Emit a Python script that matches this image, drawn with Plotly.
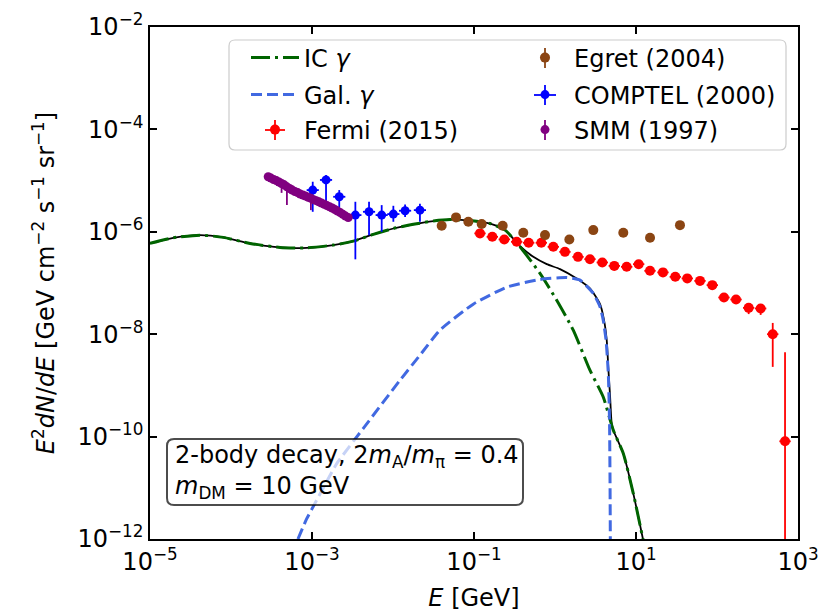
import plotly.graph_objects as go

# ---------------- data ----------------
# Model curves (E [GeV], E^2 dN/dE)
ic_E = [1.00e-5, 1.94e-5, 4.14e-5, 8.04e-5, 1.72e-4, 4.03e-4, 8.59e-4, 1.83e-3, 3.24e-3,
        5.71e-3, 1.01e-2, 1.78e-2, 3.15e-2, 5.06e-2, 8.93e-2, 0.158, 0.242, 0.370, 0.653,
        1.05, 1.68, 2.70, 3.94, 5.25, 6.97, 9.27, 12.3]
ic_y = [5.93e-7, 7.64e-7, 8.61e-7, 7.78e-7, 5.93e-7, 4.95e-7, 4.86e-7, 5.50e-7, 6.58e-7,
        8.89e-7, 1.16e-6, 1.40e-6, 1.62e-6, 1.73e-6, 1.66e-6, 1.45e-6, 1.08e-6, 5.09e-7, 1.54e-7,
        4.62e-8, 1.20e-8, 1.98e-9, 5.94e-10, 1.33e-10, 4.66e-11, 7.69e-12, 9.3e-13]

gal_E = [6.71e-4, 8.61e-4, 1.14e-3, 2.02e-3, 4.30e-3, 1.22e-2, 2.15e-2, 3.80e-2, 9.79e-2,
         0.254, 0.653, 1.39, 2.04, 2.97, 3.60, 3.94, 4.27, 4.55, 4.71, 4.78, 4.82]
gal_y = [1.0e-12, 2.49e-12, 5.69e-12, 2.96e-11, 1.45e-10, 1.26e-9, 3.88e-9, 1.20e-8, 3.86e-8,
         8.30e-8, 1.17e-7, 1.28e-7, 1.14e-7, 6.25e-8, 3.42e-8, 1.88e-8, 7.64e-9, 1.71e-9,
         2.08e-10, 1.40e-11, 9.3e-13]

tot_E = [1.00e-5, 1.94e-5, 4.14e-5, 8.04e-5, 1.72e-4, 4.03e-4, 8.59e-4, 1.83e-3, 3.24e-3,
         5.71e-3, 1.01e-2, 1.78e-2, 3.15e-2, 5.06e-2, 8.93e-2, 0.158, 0.242, 0.370, 0.540,
         0.791, 1.153, 1.854, 2.70, 3.60, 4.03, 4.35, 4.57, 4.78, 5.01, 5.25, 6.97, 9.27, 12.3]
tot_y = [5.93e-7, 7.64e-7, 8.61e-7, 7.78e-7, 5.93e-7, 4.95e-7, 4.86e-7, 5.50e-7, 6.58e-7,
         8.89e-7, 1.16e-6, 1.40e-6, 1.62e-6, 1.73e-6, 1.66e-6, 1.45e-6, 1.08e-6, 5.25e-7, 3.24e-7,
         2.33e-7, 1.87e-7, 1.22e-7, 7.82e-8, 3.86e-8, 1.88e-8, 7.64e-9, 1.98e-9, 6.43e-10,
         1.79e-10, 1.33e-10, 4.66e-11, 7.69e-12, 9.3e-13]

# Fermi (2015)
fermi_E = [0.1186, 0.1683, 0.2366, 0.3365, 0.4732, 0.6776, 0.9528, 1.327, 1.923, 2.704,
           3.837, 5.395, 7.674, 10.79, 14.89, 21.53, 30.55, 42.95, 61.66, 87.50,
           121.9, 171.8, 246.0, 345.9, 487.5, 691.8]
fermi_y = [9.31e-7, 7.98e-7, 7.10e-7, 6.37e-7, 6.10e-7, 6.10e-7, 5.09e-7, 4.06e-7, 3.24e-7, 2.92e-7,
           2.52e-7, 2.16e-7, 2.07e-7, 2.33e-7, 1.73e-7, 1.61e-7, 1.32e-7, 1.23e-7, 1.10e-7, 9.08e-8,
           5.21e-8, 4.76e-8, 3.27e-8, 3.18e-8, 1.00e-8, 8.09e-11]
fermi_err_up = [7e-8, 6.5e-8, 5.5e-8, 5e-8, 4.8e-8, 4.8e-8, 4e-8, 3.2e-8, 2.6e-8, 2.3e-8,
                2e-8, 1.7e-8, 1.6e-8, 1.8e-8, 1.4e-8, 1.3e-8, 1.05e-8, 1e-8, 9e-9, 8e-9,
                5e-9, 5e-9, 5e-9, 5e-9, 6.6e-9, 4.37e-9]
fermi_err_dn = [7e-8, 1.2e-7, 1.05e-7, 5e-8, 4.8e-8, 4.8e-8, 4e-8, 3.2e-8, 2.6e-8, 2.3e-8,
                2e-8, 1.7e-8, 1.6e-8, 1.8e-8, 1.4e-8, 1.3e-8, 1.05e-8, 1e-8, 9e-9, 8e-9,
                6e-9, 6e-9, 8e-9, 8e-9, 7.7e-9, 8.08e-11]
fermi_bin_half_dex = 0.07

# Egret (2004)
egret_E = [0.0399, 0.0600, 0.0851, 0.1245, 0.226, 0.406, 0.753, 1.503, 2.97, 6.97, 14.9, 34.9]
egret_y = [1.31e-6, 1.91e-6, 1.57e-6, 1.42e-6, 1.31e-6, 9.55e-7, 8.62e-7, 7.10e-7,
           1.08e-6, 9.55e-7, 7.64e-7, 1.35e-6]
egret_err = [1.0e-7, 1.5e-7, 1.2e-7, 1.1e-7, 1.0e-7, 7e-8, 6e-8, 5e-8, 8e-8, 7e-8, 6e-8, 1.0e-7]

# COMPTEL (2000)
comptel_E = [1.021e-3, 1.49e-3, 2.17e-3, 3.43e-3, 5.06e-3, 7.25e-3, 1.01e-2, 1.41e-2, 2.15e-2]
comptel_y = [6.53e-6, 1.03e-5, 4.83e-6, 2.12e-6, 2.46e-6, 2.12e-6, 2.22e-6, 2.58e-6, 2.65e-6]
comptel_err_up = [2.97e-6, 2.5e-6, 1.7e-6, 1.74e-6, 1.40e-6, 1.20e-6, 1.0e-6, 0.82e-6, 0.90e-6]
comptel_err_dn = [4.07e-6, 6.71e-6, 2.18e-6, 1.83e-6, 1.60e-6, 1.12e-6, 0.65e-6, 0.63e-6, 1.08e-6]
comptel_bin_half_dex = 0.075

# SMM (1997)
smm_E = [2.88e-4, 3.11e-4, 3.36e-4, 3.62e-4, 3.91e-4, 4.21e-4, 4.54e-4, 4.90e-4, 5.28e-4, 5.70e-4,
         6.15e-4, 6.64e-4, 7.16e-4, 7.72e-4, 8.33e-4, 8.98e-4, 9.69e-4, 1.045e-3, 1.127e-3, 1.216e-3,
         1.312e-3, 1.416e-3, 1.528e-3, 1.648e-3, 1.778e-3, 1.916e-3, 2.066e-3, 2.229e-3, 2.404e-3,
         2.594e-3, 2.80e-3]
smm_y = [1.19e-5, 1.12e-5, 1.05e-5, 1.00e-5, 9.37e-6, 8.76e-6, 8.26e-6, 7.55e-6, 7.00e-6, 6.53e-6,
         6.11e-6, 5.84e-6, 5.46e-6, 5.22e-6, 4.99e-6, 4.71e-6, 4.50e-6, 4.25e-6, 4.06e-6, 3.85e-6,
         3.64e-6, 3.45e-6, 3.25e-6, 3.07e-6, 2.91e-6, 2.72e-6, 2.54e-6, 2.37e-6, 2.19e-6, 2.03e-6,
         1.90e-6]
smm_err_up = [8e-7, 7e-7, 7e-7, 7e-7, 6e-7, 6e-7, 6e-7, 6e-7, 5e-7, 5e-7,
              5e-7, 4e-7, 4e-7, 4e-7, 4e-7, 4e-7, 3e-7, 3e-7, 3e-7, 3e-7,
              3e-7, 3e-7, 2e-7, 2e-7, 2e-7, 2e-7, 2e-7, 2e-7, 2e-7, 2e-7, 1.5e-7]
smm_err_dn = [8e-7, 7e-7, 7e-7, 7e-7, 6e-7, 3.0e-6, 6e-7, 4.2e-6, 5e-7, 5e-7,
              5e-7, 4e-7, 4e-7, 4e-7, 4e-7, 4e-7, 1.85e-6, 3e-7, 3e-7, 3e-7,
              3e-7, 3e-7, 2e-7, 2e-7, 2e-7, 2e-7, 2e-7, 2e-7, 2e-7, 2e-7, 1.5e-7]

x_tickvals = [1e-5, 1e-3, 1e-1, 1e1, 1e3]
x_ticktext = ["10<sup>\u22125</sup>", "10<sup>\u22123</sup>", "10<sup>\u22121</sup>",
              "10<sup>1</sup>", "10<sup>3</sup>"]
y_tickvals = [1e-12, 1e-10, 1e-8, 1e-6, 1e-4, 1e-2]
y_ticktext = ["10<sup>\u221212</sup>", "10<sup>\u221210</sup>", "10<sup>\u22128</sup>",
              "10<sup>\u22126</sup>", "10<sup>\u22124</sup>", "10<sup>\u22122</sup>"]

FONT = "DejaVu Sans"
FS = 24


def xerr_from_dex(E, h):
    return ([e * (10 ** h - 1) for e in E], [e * (1 - 10 ** (-h)) for e in E])


fig = go.Figure()

# total (no legend)
fig.add_trace(go.Scatter(x=tot_E, y=tot_y, mode="lines", showlegend=False,
                         line=dict(color="black", width=1.8, shape="spline", smoothing=0.6)))
# IC
fig.add_trace(go.Scatter(x=ic_E, y=ic_y, mode="lines", name="IC <i>\u03b3</i>", legend="legend",
                         line=dict(color="#006400", width=3, dash="19px,5px,3px,5px",
                                   shape="spline", smoothing=0.6)))
# Gal
fig.add_trace(go.Scatter(x=gal_E, y=gal_y, mode="lines", name="Gal. <i>\u03b3</i>", legend="legend2",
                         line=dict(color="#4169E1", width=3, dash="11px,5px",
                                   shape="spline", smoothing=0.5)))
# Fermi
fx_p, fx_m = xerr_from_dex(fermi_E, fermi_bin_half_dex)
fig.add_trace(go.Scatter(x=fermi_E, y=fermi_y, mode="markers", name="Fermi (2015)",
                         legend="legend3",
                         marker=dict(color="#FF0000", size=10),
                         error_y=dict(type="data", symmetric=False, array=fermi_err_up,
                                      arrayminus=fermi_err_dn, color="#FF0000",
                                      thickness=1.8, width=0),
                         error_x=dict(type="data", symmetric=False, array=fx_p, arrayminus=fx_m,
                                      color="#FF0000", thickness=1.8, width=0)))
# Egret
fig.add_trace(go.Scatter(x=egret_E, y=egret_y, mode="markers", name="Egret (2004)", legend="legend4",
                         marker=dict(color="#8B4513", size=10),
                         error_y=dict(type="data", array=egret_err, color="#8B4513",
                                      thickness=1.8, width=0)))
# COMPTEL
cx_p, cx_m = xerr_from_dex(comptel_E, comptel_bin_half_dex)
fig.add_trace(go.Scatter(x=comptel_E, y=comptel_y, mode="markers", name="COMPTEL (2000)",
                         legend="legend5",
                         marker=dict(color="#0000FF", size=9),
                         error_y=dict(type="data", symmetric=False, array=comptel_err_up,
                                      arrayminus=comptel_err_dn, color="#0000FF",
                                      thickness=1.8, width=0),
                         error_x=dict(type="data", symmetric=False, array=cx_p, arrayminus=cx_m,
                                      color="#0000FF", thickness=1.8, width=0)))
# SMM
fig.add_trace(go.Scatter(x=smm_E, y=smm_y, mode="markers", name="SMM (1997)", legend="legend6",
                         marker=dict(color="#800080", size=9),
                         error_y=dict(type="data", symmetric=False, array=smm_err_up,
                                      arrayminus=smm_err_dn, color="#800080",
                                      thickness=1.8, width=0)))

W, H = 827, 615
ML, MR, MT, MB = 150, 29, 27, 76
PW, PH = W - ML - MR, H - MT - MB


def px2paper(px, py):
    return (px - ML) / PW, (H - MB - py) / PH


def rounded_rect(x0p, y0p, x1p, y1p, r):
    # pixel coords -> paper path with rounded corners
    X0, Y1 = px2paper(x0p, y0p)
    X1, Y0 = px2paper(x1p, y1p)
    rx, ry = r / PW, r / PH
    return (f"M{X0+rx},{Y0} L{X1-rx},{Y0} Q{X1},{Y0} {X1},{Y0+ry} "
            f"L{X1},{Y1-ry} Q{X1},{Y1} {X1-rx},{Y1} L{X0+rx},{Y1} Q{X0},{Y1} {X0},{Y1-ry} "
            f"L{X0},{Y0+ry} Q{X0},{Y0} {X0+rx},{Y0} Z")


COL1, COL2 = 246, 516
ROW1, ROW2, ROW3 = 58, 95, 130
ITEMW = 48
MK1, MK2 = COL1 + ITEMW / 2 + 5, COL2 + ITEMW / 2 + 5


def seg(x0p, y0p, x1p, y1p, color):
    X0, Y0 = px2paper(x0p, y0p)
    X1, Y1 = px2paper(x1p, y1p)
    return dict(type="line", xref="paper", yref="paper", layer="above",
                x0=X0, y0=Y0, x1=X1, y1=Y1, line=dict(color=color, width=1.8))


shapes = [
    # legend frame
    dict(type="path", xref="paper", yref="paper", layer="above",
         path=rounded_rect(229, 40, 786, 150, 6),
         fillcolor="rgba(255,255,255,0.8)", line=dict(color="rgba(204,204,204,1)", width=1.2)),
    # legend error-bar glyphs (drawn beneath the legend markers)
    seg(MK1, ROW3 - 10, MK1, ROW3 + 10, "#FF0000"),
    seg(MK1 - 10, ROW3, MK1 + 10, ROW3, "#FF0000"),
    seg(MK2, ROW1 - 10, MK2, ROW1 + 10, "#8B4513"),
    seg(MK2, ROW2 - 10, MK2, ROW2 + 10, "#0000FF"),
    seg(MK2 - 11, ROW2, MK2 + 11, ROW2, "#0000FF"),
    seg(MK2, ROW3 - 10, MK2, ROW3 + 10, "#800080"),
    # annotation box
    dict(type="path", xref="paper", yref="paper", layer="above",
         path=rounded_rect(167, 439, 523, 505, 7),
         fillcolor="rgba(255,255,255,0.7)", line=dict(color="rgba(0,0,0,0.7)", width=2)),
]

ax_x, _ = px2paper(173, 0)
_, ay = px2paper(0, 472)

annotations = [
    dict(xref="paper", yref="paper", x=ax_x, y=ay, xanchor="left", yanchor="middle",
         align="left", showarrow=False,
         text=("2-body decay, 2<i>m</i><sub>A</sub>/<i>m</i><sub>\u03c0</sub> = 0.4<br>"
               "<i>m</i><sub>DM</sub> = 10 GeV"),
         font=dict(family=FONT, size=FS, color="black")),
]


def leg(px, py):
    xp, yp = px2paper(px, py)
    return dict(x=xp, y=yp, xanchor="left", yanchor="middle", orientation="v",
                bgcolor="rgba(0,0,0,0)", borderwidth=0, itemwidth=ITEMW,
                font=dict(family=FONT, size=FS, color="black"))


fig.update_layout(
    width=W, height=H,
    margin=dict(l=ML, r=MR, t=MT, b=MB, pad=0, autoexpand=False),
    paper_bgcolor="white", plot_bgcolor="white",
    font=dict(family=FONT, size=FS, color="black"),
    shapes=shapes, annotations=annotations,
    legend=leg(COL1, ROW1), legend2=leg(COL1, ROW2), legend3=leg(COL1, ROW3),
    legend4=leg(COL2, ROW1), legend5=leg(COL2, ROW2), legend6=leg(COL2, ROW3),
    xaxis=dict(type="log", range=[-5, 3], tickvals=x_tickvals, ticktext=x_ticktext,
               automargin=False,
               ticks="inside", ticklen=7, tickwidth=1.5, tickcolor="black",
               showline=True, linecolor="black", linewidth=1.6, mirror="ticks",
               showgrid=False, zeroline=False,
               tickfont=dict(family=FONT, size=FS, color="black"),
               title=dict(text="<i>E</i> [GeV]", font=dict(family=FONT, size=FS), standoff=15)),
    yaxis=dict(type="log", range=[-12, -2], tickvals=y_tickvals, ticktext=y_ticktext,
               automargin=False,
               ticks="inside", ticklen=7, tickwidth=1.5, tickcolor="black",
               showline=True, linecolor="black", linewidth=1.6, mirror="ticks",
               showgrid=False, zeroline=False,
               tickfont=dict(family=FONT, size=FS, color="black"),
               title=dict(text=("<i>E</i><sup>2</sup><i>dN</i>/<i>dE</i> [GeV cm<sup>\u22122</sup> "
                                "s<sup>\u22121</sup> sr<sup>\u22121</sup>]"),
                          font=dict(family=FONT, size=FS), standoff=16)),
)

fig.write_html("out.html")
